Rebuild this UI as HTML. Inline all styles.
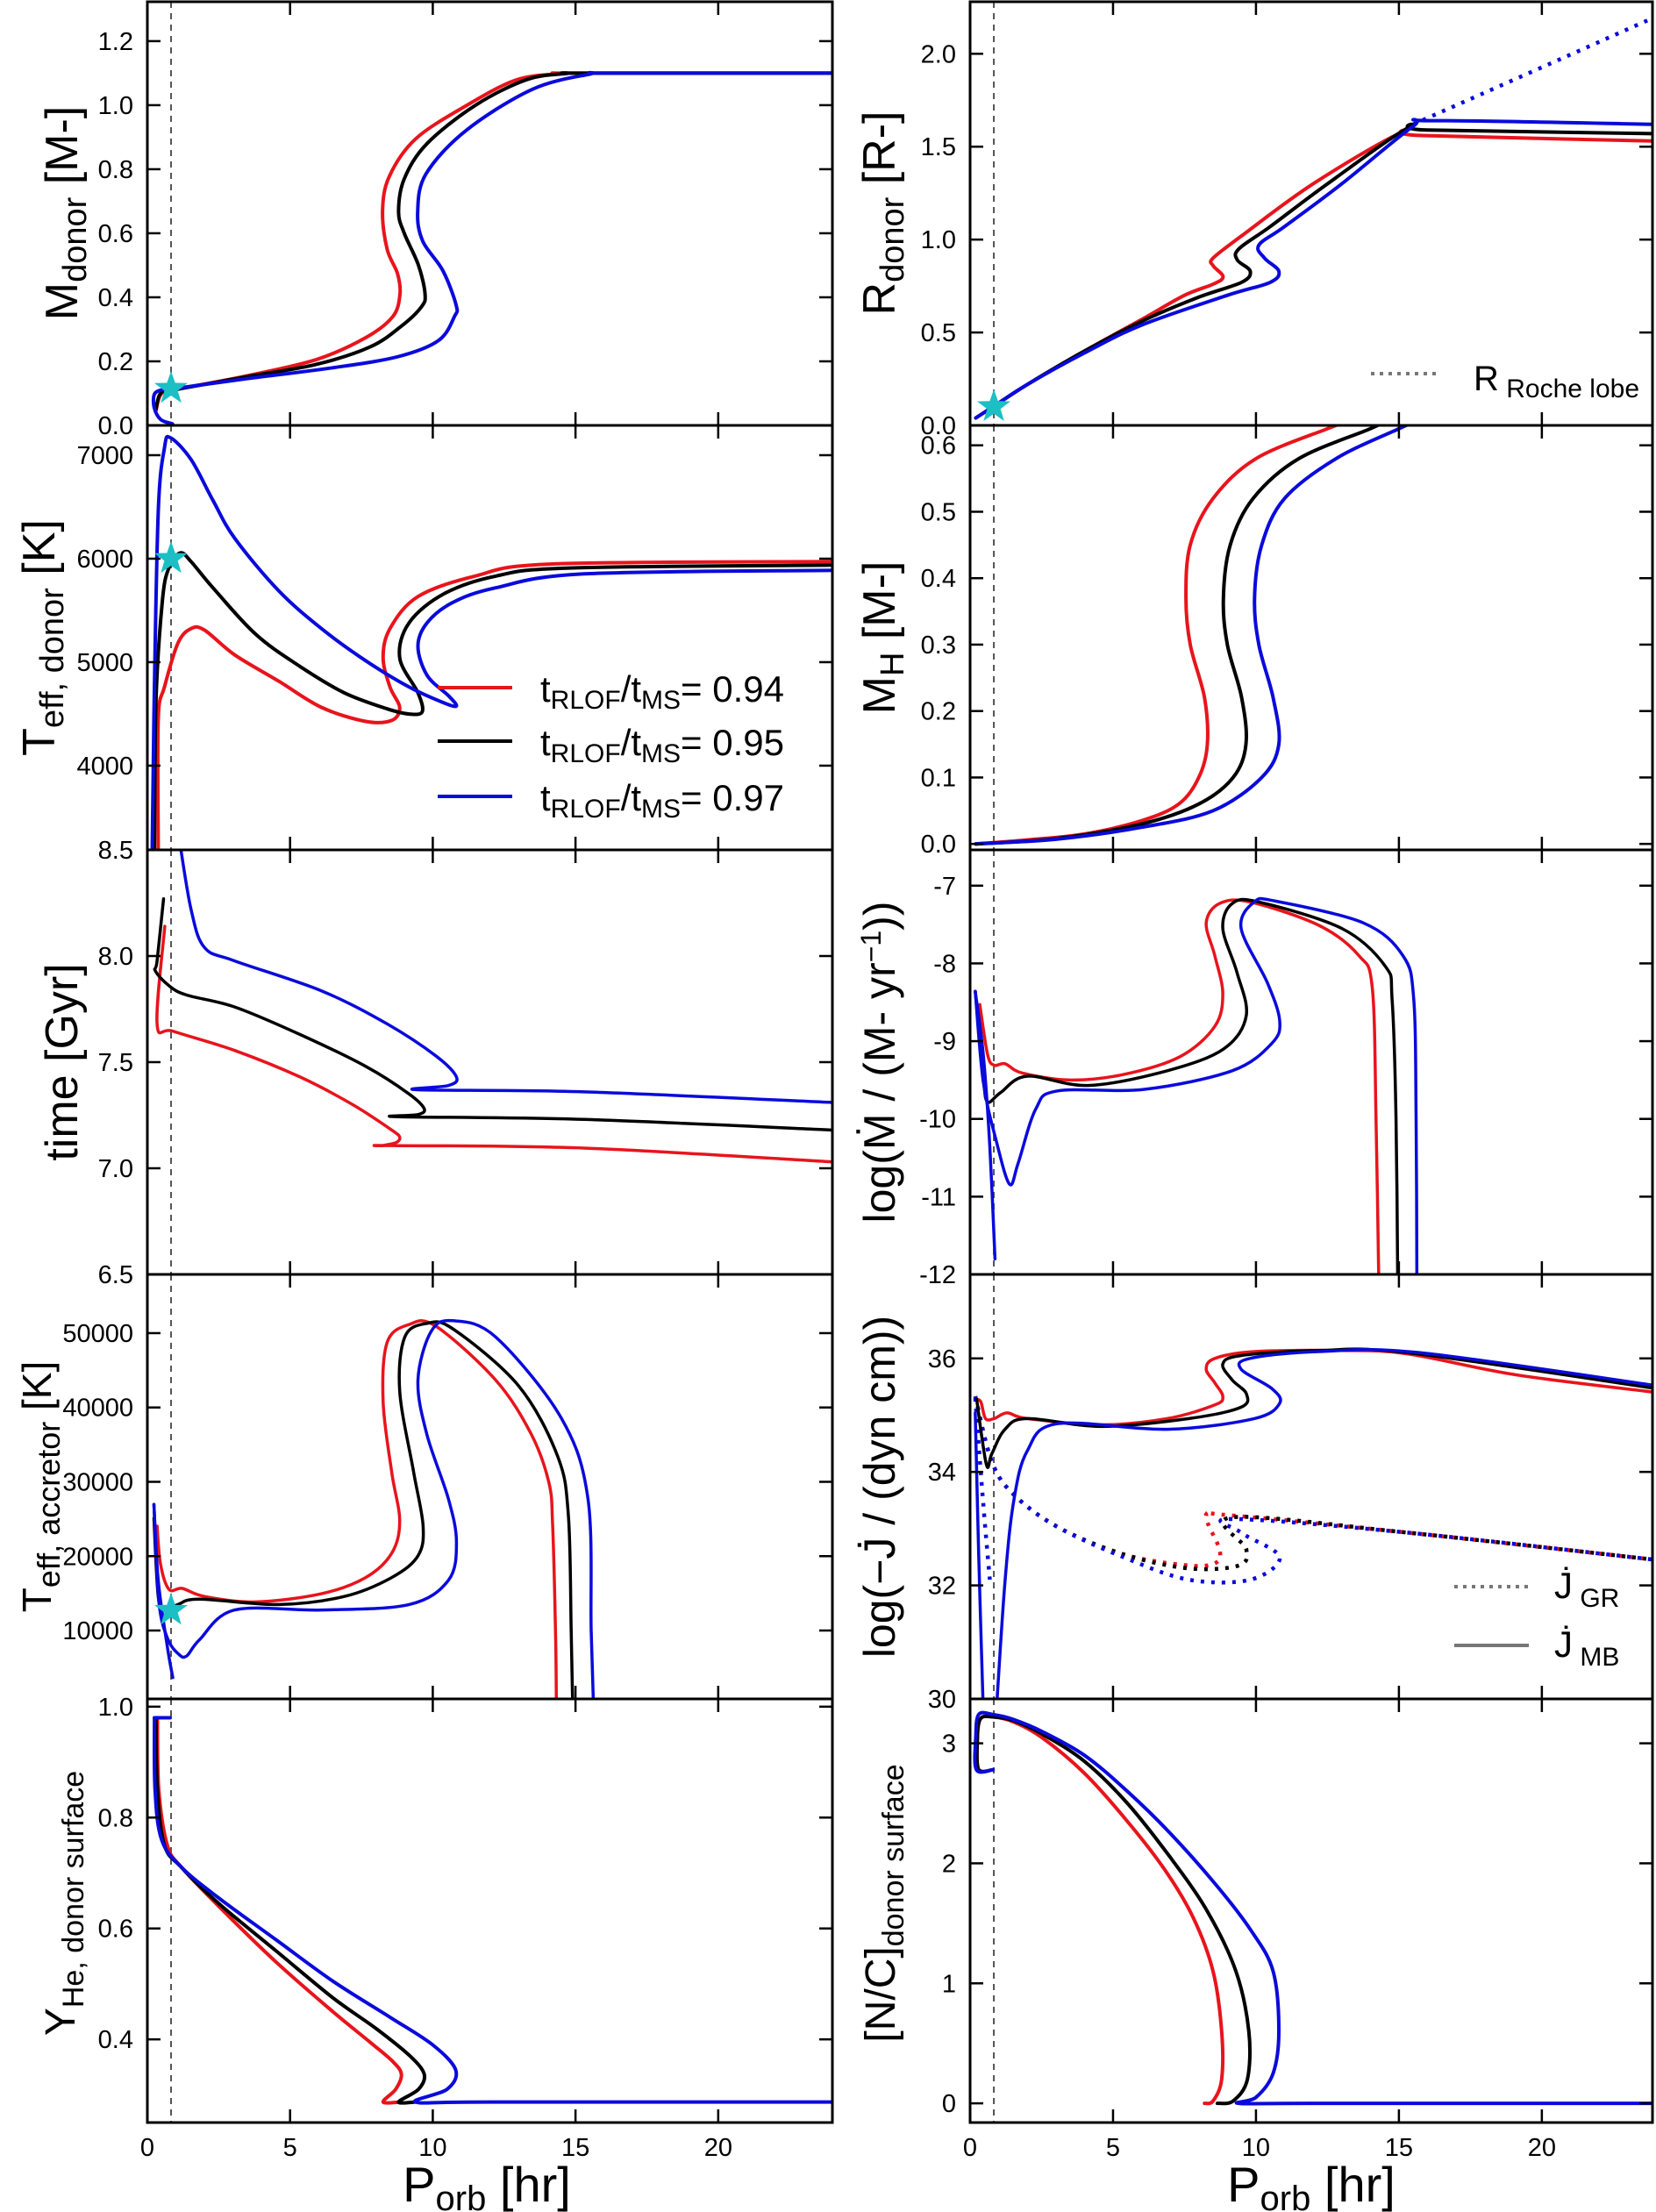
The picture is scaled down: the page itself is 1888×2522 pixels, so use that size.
<!DOCTYPE html>
<html><head><meta charset="utf-8">
<style>
html,body{margin:0;padding:0;background:#fff;}
svg{display:block;font-family:"Liberation Sans",sans-serif;}
</style></head>
<body>
<svg id="s" xmlns="http://www.w3.org/2000/svg" width="1888" height="2522" viewBox="0 0 1888 2522">
<rect width="1888" height="2522" fill="#fff"/>
</svg>
<script>
const S=document.getElementById('s');const NS='http://www.w3.org/2000/svg';
function el(t,a,p){const e=document.createElementNS(NS,t);for(const k in a)e.setAttribute(k,a[k]);(p||S).appendChild(e);return e;}
const RB=[[2,485],[485,969],[969,1453],[1453,1937],[1937,2420]];
const L={x0:168,w:781,xmax:24},R={x0:1106,w:778,xmax:23.87};
let cid=0;
function panel(col,row,ymin,ymax,yt,fmt){
  const y0=RB[row][0],y1=RB[row][1],h=y1-y0;
  const P={x0:col.x0,w:col.w,y0:y0,h:h,
    X:v=>col.x0+v/col.xmax*col.w,Y:v=>y1-(v-ymin)/(ymax-ymin)*h};
  const id='c'+(cid++);
  const cp=el('clipPath',{id:id});el('rect',{x:col.x0,y:y0,width:col.w,height:h},cp);
  P.g=el('g',{'clip-path':'url(#'+id+')'});
  P.frame=()=>{
    el('rect',{x:col.x0,y:y0,width:col.w,height:h,fill:'none',stroke:'#000','stroke-width':3});
    for(const t of [5,10,15,20]){const x=P.X(t);
      el('line',{x1:x,y1:y1,x2:x,y2:y1-15,stroke:'#000','stroke-width':2.5});
      el('line',{x1:x,y1:y0,x2:x,y2:y0+15,stroke:'#000','stroke-width':2.5});}
    for(const t of yt){const y=P.Y(t);
      if(Math.abs(y-y0)>2&&Math.abs(y-y1)>2){
      el('line',{x1:col.x0,y1:y,x2:col.x0+15,y2:y,stroke:'#000','stroke-width':2.5});
      el('line',{x1:col.x0+col.w,y1:y,x2:col.x0+col.w-15,y2:y,stroke:'#000','stroke-width':2.5});}
      const tx=el('text',{x:col.x0-16,y:y+10,'text-anchor':'end','font-size':29});tx.textContent=fmt(t);}
  };
  el('line',{x1:P.X(0.83),y1:y0,x2:P.X(0.83),y2:y1,stroke:'#444','stroke-width':1.8,'stroke-dasharray':'7,6'},P.g);
  return P;
}
function path(P,pts,color,opt){
  opt=opt||{};
  const q=pts.map(p=>[P.X(p[0]),P.Y(p[1])]);
  let d='M'+q[0][0].toFixed(1)+','+q[0][1].toFixed(1);
  for(let i=0;i<q.length-1;i++){
    const p0=q[Math.max(0,i-1)],p1=q[i],p2=q[i+1],p3=q[Math.min(q.length-1,i+2)];
    const t=opt.tight?0:1/6;
    const c1=[p1[0]+(p2[0]-p0[0])*t,p1[1]+(p2[1]-p0[1])*t];
    const c2=[p2[0]-(p3[0]-p1[0])*t,p2[1]-(p3[1]-p1[1])*t];
    d+=' C'+c1.map(v=>v.toFixed(1))+' '+c2.map(v=>v.toFixed(1))+' '+p2.map(v=>v.toFixed(1));
  }
  const a={d:d,fill:'none',stroke:color,'stroke-width':opt.w||4,'stroke-linejoin':'round','stroke-linecap':'round'};
  if(opt.dot){a['stroke-dasharray']='4,8';a['stroke-linecap']='butt';a['stroke-width']=4.5;}
  el('path',a,P.g);
}
function star(P,x,y){const cx=P.X(x),cy=P.Y(y);let d='';
  for(let i=0;i<10;i++){const r=i%2?8:20,a=-Math.PI/2+i*Math.PI/5;d+=(i?'L':'M')+(cx+r*Math.cos(a)).toFixed(1)+','+(cy+r*Math.sin(a)).toFixed(1);}
  el('path',{d:d+'Z',fill:'#1bbfc4'});}
const RED='#e8141c',BLK='#000',BLU='#0a0adc';
const f1=v=>v.toFixed(1),f0=v=>String(v);

P=panel(L,0,0,1.323,[0,0.2,0.4,0.6,0.8,1.0,1.2],f1);
path(P,[[0.3,0.046],[0.47,0.096],[0.88,0.11],[3.5,0.155],[5.9,0.205],[7.65,0.274],[8.6,0.34],[8.85,0.41],[8.76,0.475],[8.4,0.55],[8.24,0.667],[8.47,0.776],[9.4,0.895],[11.2,1.0],[12.9,1.078],[14.35,1.098],[15,1.1],[24,1.1]],RED);
path(P,[[0.3,0.05],[0.45,0.098],[0.88,0.11],[3.5,0.152],[5.9,0.19],[7.8,0.245],[8.9,0.31],[9.6,0.37],[9.73,0.41],[9.5,0.5],[9.0,0.6],[8.8,0.667],[9.0,0.77],[9.8,0.88],[11.5,1.0],[13.3,1.08],[14.7,1.099],[15.3,1.1],[24,1.1]],BLK);
path(P,[[0.88,0.005],[0.47,0.018],[0.24,0.055],[0.24,0.096],[0.47,0.11],[0.88,0.114],[3.5,0.146],[6.5,0.18],[8.8,0.215],[10.2,0.265],[10.76,0.34],[10.82,0.375],[10.35,0.484],[9.65,0.575],[9.47,0.667],[9.76,0.785],[11.18,0.922],[13.5,1.05],[15.5,1.097],[16.2,1.1],[24,1.1]],BLU);
P.frame();star(P,0.83,0.115);

P=panel(L,1,3186,7288,[4000,5000,6000,7000],f0);
path(P,[[0.38,3186],[0.38,4450],[0.6,4760],[1.07,5183],[1.53,5324],[2.0,5310],[3.06,5070],[4.6,4817],[6.1,4563],[7.65,4428],[8.56,4437],[8.84,4563],[8.5,4760],[8.26,5042],[8.5,5324],[9.48,5634],[11.47,5831],[14.2,5949],[24,5972]],RED);
path(P,[[0.25,3186],[0.3,4620],[0.53,5600],[0.76,5915],[1.15,6056],[1.53,5972],[2.3,5718],[3.8,5268],[5.35,4958],[6.9,4704],[8.4,4549],[9.17,4499],[9.63,4521],[9.48,4704],[8.84,5042],[9.17,5380],[10.4,5662],[12.2,5831],[14.8,5910],[24,5938]],BLK);
path(P,[[0.17,3186],[0.23,4479],[0.38,6450],[0.6,7070],[0.8,7170],[1.53,6958],[2.3,6563],[3.06,6197],[4.6,5690],[6.1,5324],[7.65,5014],[9.17,4760],[10.4,4606],[10.83,4577],[10.55,4676],[9.8,4873],[9.48,5155],[9.8,5380],[10.7,5577],[12.2,5718],[15.3,5853],[24,5887]],BLU);
P.frame();star(P,0.83,6000);
[[RED,'0.94',784],[BLK,'0.95',845],[BLU,'0.97',908]].forEach(([c,v,y])=>{
  el('line',{x1:499,y1:y,x2:584,y2:y,stroke:c,'stroke-width':4});
  const t=el('text',{x:616,y:y+16,'font-size':42});
  t.innerHTML='t<tspan font-size="30" dy="8">RLOF</tspan><tspan dy="-8">/t</tspan><tspan font-size="30" dy="8">MS</tspan><tspan dy="-8">= '+v+'</tspan>';
});

P=panel(L,2,6.5,8.5,[6.5,7.0,7.5,8.0,8.5],f1);
path(P,[[0.61,8.14],[0.34,7.68],[0.92,7.645],[3.06,7.555],[5.35,7.43],[7.19,7.30],[8.56,7.18],[8.84,7.146],[8.7,7.12],[8.26,7.107],[8.56,7.107],[15.3,7.095],[24,7.03]],RED,{w:3.5});
path(P,[[0.57,8.27],[0.34,7.977],[0.28,7.93],[0.76,7.86],[1.38,7.816],[3.06,7.76],[5.35,7.63],[7.65,7.48],[9.17,7.35],[9.7,7.28],[9.48,7.253],[8.8,7.243],[15.3,7.23],[24,7.18]],BLK,{w:3.5});
path(P,[[1.12,8.55],[1.53,8.22],[2.0,8.04],[3.06,7.977],[6.1,7.836],[8.4,7.68],[10.1,7.53],[10.83,7.43],[10.55,7.39],[9.48,7.37],[15.3,7.36],[24,7.31]],BLU,{w:3.5});
P.frame();

P=panel(L,3,800,57900,[10000,20000,30000,40000,50000],f0);
path(P,[[0.34,24040],[0.46,18950],[0.76,15530],[1.22,15670],[2.0,14580],[3.8,13850],[6.1,14950],[7.65,17130],[8.56,20400],[8.84,24760],[8.56,31300],[8.26,40760],[8.4,48760],[9.17,51160],[10.1,50950],[12.2,43700],[13.45,36400],[14.07,29850],[14.2,24040],[14.3,10000],[14.33,0]],RED,{w:3.5});
path(P,[[0.23,25100],[0.38,14580],[0.61,12760],[1.07,13490],[1.83,14220],[4.6,13490],[6.9,14580],[8.56,17130],[9.48,20040],[9.66,24040],[9.33,31300],[8.84,42220],[9.02,49490],[9.79,51300],[10.7,50580],[13.0,42950],[14.37,33490],[14.75,25490],[14.85,10000],[14.9,0]],BLK,{w:3.5});
path(P,[[0.23,26950],[0.38,16760],[0.69,8040],[0.89,3670]],BLU,{w:3.5});
path(P,[[0.23,26950],[0.4,14000],[0.7,9000],[1.1,6800],[1.38,6580],[1.83,8770],[3.06,12760],[6.1,12760],[9.17,13490],[10.55,16760],[10.83,21850],[10.55,27670],[9.79,36400],[9.48,43670],[9.94,50220],[10.7,51670],[12.2,49490],[14.5,38580],[15.44,27670],[15.55,10000],[15.63,0]],BLU,{w:3.5});
P.frame();star(P,0.83,12700);

P=panel(L,4,0.25,1.014,[0.4,0.6,0.8,1.0],f1);
path(P,[[0.35,0.98],[0.4,0.85],[0.7,0.75],[1.2,0.71],[2.5,0.64],[4.5,0.54],[6.5,0.45],[7.8,0.395],[8.6,0.36],[8.9,0.337],[8.7,0.31],[8.26,0.287],[8.85,0.287]],RED);
path(P,[[0.3,0.98],[0.35,0.85],[0.6,0.75],[1.2,0.71],[2.5,0.645],[4.5,0.56],[6.5,0.475],[8,0.42],[9.2,0.37],[9.7,0.337],[9.5,0.31],[8.8,0.287],[9.4,0.287]],BLK);
path(P,[[0.8,0.98],[0.25,0.98]],BLU,{tight:1});
path(P,[[0.25,0.98],[0.27,0.85],[0.5,0.76],[1.2,0.71],[2.5,0.655],[4.5,0.58],[6.5,0.505],[8.5,0.44],[10,0.39],[10.8,0.345],[10.5,0.31],[9.4,0.287],[12,0.287],[24,0.287]],BLU);
P.frame();

P=panel(R,0,0,2.28,[0,0.5,1.0,1.5,2.0],f1);
path(P,[[15.5,1.62],[24,2.2]],BLU,{dot:1});
path(P,[[0.2,0.04],[0.8,0.1],[2,0.22],[4,0.4],[6,0.57],[7.5,0.7],[8.5,0.76],[8.85,0.8],[8.5,0.86],[8.5,0.9],[9.5,1.02],[12,1.3],[15,1.57],[15.8,1.56],[24,1.53]],RED);
path(P,[[0.2,0.04],[0.8,0.1],[2,0.22],[4,0.4],[6,0.56],[8,0.69],[9.5,0.77],[9.8,0.83],[9.35,0.89],[9.4,0.95],[10.5,1.07],[12.5,1.3],[15.3,1.6],[16,1.59],[24,1.57]],BLK);
path(P,[[0.2,0.04],[0.8,0.1],[2,0.22],[4,0.39],[6,0.54],[9,0.7],[10.5,0.77],[10.8,0.83],[10.3,0.9],[10.1,0.97],[11,1.07],[13,1.3],[15.5,1.61],[16.2,1.64],[24,1.62]],BLU);
P.frame();star(P,0.83,0.1);
el('line',{x1:1563,y1:426,x2:1643,y2:426,stroke:'#777','stroke-width':4,'stroke-dasharray':'4,6'});
{const t=el('text',{x:1680,y:445,'font-size':40});t.innerHTML='R<tspan font-size="30" dy="8"> Roche lobe</tspan>';}

P=panel(R,1,-0.009,0.63,[0,0.1,0.2,0.3,0.4,0.5,0.6],f1);
path(P,[[0.2,0],[2,0.006],[4,0.015],[6,0.035],[7.3,0.06],[8.0,0.1],[8.3,0.15],[8.2,0.22],[7.7,0.3],[7.55,0.37],[7.7,0.45],[8.5,0.52],[10,0.58],[12.5,0.625],[13.5,0.64]],RED);
path(P,[[0.2,0],[3,0.008],[6,0.03],[8,0.06],[9.2,0.1],[9.65,0.15],[9.5,0.22],[9.0,0.3],[8.86,0.37],[9.1,0.45],[9.9,0.52],[11.5,0.58],[14.0,0.625],[14.7,0.64]],BLK);
path(P,[[0.2,0],[3,0.007],[6,0.025],[8.5,0.05],[10.2,0.1],[10.8,0.15],[10.6,0.22],[10.1,0.3],[9.95,0.37],[10.2,0.45],[11,0.52],[12.8,0.58],[15.0,0.625],[15.8,0.64]],BLU);
P.frame();

P=panel(R,2,-12,-6.54,[-12,-11,-10,-9,-8,-7],f0);
path(P,[[0.34,-8.53],[0.61,-9.17],[0.84,-9.31],[1.22,-9.29],[1.83,-9.41],[3.5,-9.5],[5.35,-9.43],[7.34,-9.2],[8.56,-8.81],[8.84,-8.39],[8.56,-7.9],[8.26,-7.48],[8.72,-7.23],[9.79,-7.21],[12.2,-7.51],[13.6,-7.9],[14.07,-8.32],[14.2,-10],[14.3,-12.2]],RED,{w:3.5});
path(P,[[0.18,-8.36],[0.46,-9.45],[0.61,-9.78],[1.07,-9.66],[2.0,-9.45],[4.13,-9.57],[6.9,-9.38],[8.87,-9.1],[9.66,-8.67],[9.33,-8.11],[8.84,-7.55],[9.17,-7.23],[10.1,-7.21],[13.0,-7.55],[14.53,-8.04],[14.76,-8.46],[14.9,-10],[14.96,-12.2]],BLK,{w:3.5});
path(P,[[0.18,-8.36],[0.46,-9.17],[0.69,-10.36],[0.87,-11.8]],BLU,{w:3.5});
path(P,[[0.18,-8.36],[0.46,-9.52],[0.92,-10.29],[1.38,-10.84],[1.68,-10.57],[2.3,-9.87],[3.06,-9.64],[6.1,-9.62],[9.17,-9.38],[10.55,-9.03],[10.83,-8.74],[10.4,-8.25],[9.48,-7.55],[9.94,-7.21],[10.7,-7.2],[13.76,-7.48],[15.14,-7.9],[15.52,-8.46],[15.6,-10],[15.63,-12.2]],BLU,{w:3.5});
P.frame();

P=panel(R,3,30,37.48,[30,32,34,36],f0);
path(P,[[0.18,35.33],[0.76,34.18],[1.53,33.6],[3.06,33.03],[5.35,32.55],[7.65,32.35],[8.6,32.4],[8.72,32.64],[8.26,33.22],[9.0,33.24],[15.3,32.93],[24,32.45]],RED,{dot:1});
path(P,[[0.18,35.33],[0.76,34.18],[1.53,33.6],[3.06,33.03],[5.35,32.55],[7.65,32.3],[9.4,32.35],[9.66,32.64],[9.17,33.2],[15.3,32.93],[24,32.45]],BLK,{dot:1});
path(P,[[0.18,35.33],[0.76,34.18],[1.53,33.6],[3.06,33.03],[5.35,32.5],[7.65,32.1],[9.8,32.1],[10.83,32.5],[9.48,32.93],[9.17,33.17],[15.3,32.93],[24,32.45]],BLU,{dot:1});
path(P,[[0.18,35.3],[0.45,33.5],[0.69,32.1]],BLU,{dot:1});
path(P,[[0.23,35.28],[0.38,35.23],[0.54,34.94],[0.84,34.94],[1.3,35.04],[2.0,34.94],[4.6,34.83],[6.9,34.94],[8.56,35.18],[8.84,35.33],[8.56,35.57],[8.26,35.81],[8.56,36.0],[9.94,36.12],[13.0,36.14],[15.3,36.08],[19.1,35.71],[24,35.4]],RED,{w:3.5});
path(P,[[0.23,35.28],[0.57,34.13],[0.76,34.32],[1.22,34.75],[2.0,34.94],[4.6,34.8],[7.65,34.94],[9.48,35.14],[9.66,35.38],[9.17,35.62],[8.84,35.9],[9.48,36.05],[12.2,36.14],[15.3,36.1],[24,35.47]],BLK,{w:3.5});
path(P,[[0.18,35.04],[0.3,32.55],[0.46,29.8]],BLU,{w:3.5});
path(P,[[0.92,29.8],[1.22,32.07],[1.53,33.5],[2.0,34.37],[3.06,34.85],[6.9,34.75],[9.94,34.94],[10.83,35.21],[10.55,35.47],[9.48,35.81],[9.79,36.0],[12.2,36.12],[15.75,36.1],[24,35.52]],BLU,{w:3.5});
P.frame();
el('line',{x1:1658,y1:1809,x2:1743,y2:1809,stroke:'#777','stroke-width':4,'stroke-dasharray':'4,6'});
el('line',{x1:1658,y1:1876,x2:1743,y2:1876,stroke:'#777','stroke-width':4});
{let t=el('text',{x:1772,y:1822,'font-size':42});t.innerHTML='J&#775;<tspan font-size="30" dy="10"> GR</tspan>';
 t=el('text',{x:1772,y:1889,'font-size':42});t.innerHTML='J&#775;<tspan font-size="30" dy="10"> MB</tspan>';}

P=panel(R,4,-0.16,3.37,[0,1,2,3],f0);
const ncs=[[0.8,2.78],[0.3,2.78],[0.25,3.0],[0.35,3.2],[0.8,3.22]];
path(P,ncs.concat([[1.5,3.18],[2.5,3.05],[4,2.75],[5.5,2.35],[6.8,1.95],[7.8,1.55],[8.5,1.1],[8.8,0.6],[8.8,0.2],[8.5,0.02],[8.2,0]]),RED);
path(P,ncs.concat([[1.5,3.19],[2.5,3.08],[4,2.85],[5.5,2.5],[7,2.05],[8.3,1.6],[9.3,1.1],[9.75,0.6],[9.7,0.2],[9.2,0.02],[8.65,0]]),BLK);
path(P,[[0.8,2.78],[0.22,2.78],[0.2,3.05],[0.3,3.24],[0.8,3.24],[1.5,3.2],[2.5,3.1],[4,2.9],[5.5,2.6],[7,2.25],[8.5,1.85],[9.8,1.45],[10.6,1.1],[10.8,0.6],[10.6,0.25],[10,0.05],[9.4,0],[12,0],[24,0]],BLU);
P.frame();

for(const col of [L,R]){for(const t of [0,5,10,15,20]){const x=col.x0+t/col.xmax*col.w;
  const tx=el('text',{x:x,y:2458,'text-anchor':'middle','font-size':29});tx.textContent=t;}}
function xl(cx){const t=el('text',{x:cx,y:2510,'text-anchor':'middle','font-size':56});
  t.innerHTML='P<tspan font-size="40" dy="10">orb</tspan><tspan dy="-10"> [hr]</tspan>';}
xl(555);xl(1495);
function yl(x,y,html,fs){const t=el('text',{x:0,y:0,'text-anchor':'middle','font-size':fs||52,transform:'translate('+x+','+y+') rotate(-90)'});t.innerHTML=html;}
const sb=(s,fs)=>'<tspan font-size="'+(fs||38)+'" dy="10">'+s+'</tspan><tspan dy="-10">';
yl(88,243,'M'+sb('donor')+' [M-]</tspan>');
yl(62,727,'T'+sb('eff, donor')+' [K]</tspan>');
yl(88,1211,'time [Gyr]');
yl(58,1695,'T'+sb('eff, accretor',36)+' [K]</tspan>',46);
yl(85,2170,'Y'+sb('He, donor surface',34)+'</tspan>',48);
yl(1020,243,'R'+sb('donor')+' [R-]</tspan>');
yl(1020,727,'M'+sb('H')+' [M-]</tspan>');
yl(1020,1211,'log(M&#775; / (M- yr<tspan font-size="32" dy="-16">−1</tspan><tspan dy="16">))</tspan>',50);
yl(1020,1695,'log(−J&#775; / (dyn cm))',50);
yl(1020,2170,'[N/C]'+sb('donor surface',34)+'</tspan>',48);
</script>
</body></html>
